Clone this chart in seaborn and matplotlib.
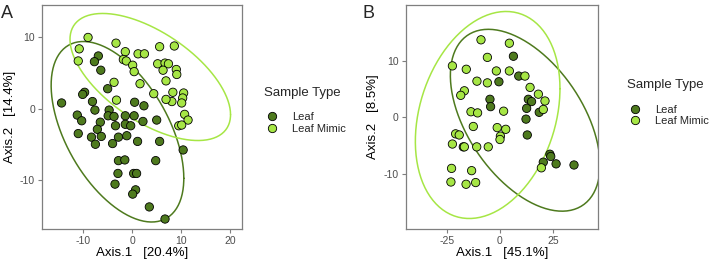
import numpy as np
import pandas as pd
import matplotlib
matplotlib.use("Agg")
import matplotlib.pyplot as plt
import seaborn as sns

# panel A (Axis.1 vs Axis.2)
a_leaf_x = [-6.9, -7.7, -6.4, -5.0, -9.7, -10.1, -14.4, -8.1, -7.6, -11.2, -10.3, -6.5, -4.7, -4.9,
            -3.7, -7.1, -11.0, -8.3, -7.5, -6.3, -3.4, -1.4, -1.4, -0.3, 0.4, 0.5, 2.4, 2.2, 5.0,
            -2.8, -1.1, -4.0, 1.1, 5.6, 10.4, -2.8, -1.5, 4.8, -2.9, 0.3, 0.9, -3.5, 0.7, 0.1, 3.5, 6.7]
a_leaf_y = [7.4, 6.6, 5.4, 2.8, 2.3, 2.0, 0.8, 1.0, -0.2, -0.9, -1.7, -1.9, -0.2, -1.0,
            -1.1, -2.9, -3.5, -4.0, -5.0, -3.9, -2.4, -1.0, -2.2, -2.4, -1.0, 0.9, 0.4, -1.8, -1.6,
            -4.0, -3.8, -4.9, -4.6, -4.6, -5.8, -7.3, -7.2, -7.3, -9.1, -9.1, -9.1, -10.6, -11.4, -12.0, -13.8, -15.5]
a_mimic_x = [-9.0, -10.8, -11.0, -3.3, -1.4, -1.8, -1.2, 1.2, 2.5, 0.1, 0.4, -3.7, 1.6, 5.6, 8.6,
             5.2, 6.7, 7.4, 6.3, 9.0, 9.1, 6.9, 4.4, 8.3, 8.1, 6.9, -3.2, 10.5, 10.3, 10.1, 10.7, 11.4, 9.5, 10.1]
a_mimic_y = [10.0, 8.4, 6.7, 9.2, 8.0, 6.9, 6.7, 7.7, 7.7, 6.1, 5.2, 3.7, 3.5, 8.7, 8.8,
             6.3, 6.4, 6.3, 5.4, 5.5, 4.8, 3.9, 2.1, 2.3, 1.0, 1.3, 1.2, 2.2, 1.5, 0.8, -0.8, -1.6, -2.4, -2.3]

# panel B
b_leaf_x = [6.3, 8.8, -0.5, -4.7, -4.4, 13.3, 14.8, 12.5, 18.4, 12.2, 12.8, -17.2, 23.4, 23.8, 20.3, 26.3, 34.7]
b_leaf_y = [10.8, 7.3, 6.3, 3.2, 1.9, 3.2, 2.8, 1.6, 0.9, -0.3, -3.1, -5.2, -6.5, -6.9, -7.9, -8.2, -8.4]
b_mimic_x = [-8.9, 4.4, -5.9, -22.3, -15.8, -1.7, 4.4, 11.7, -10.8, -5.9, 14.1, -16.7, -18.4, 18.0,
             21.1, -13.6, -10.5, 1.7, 20.3, -12.5, -1.3, 2.7, 0.2, 0.0, -20.8, -19.1, -22.3, -16.7,
             -10.9, -5.5, -22.7, -13.3, -23.0, -15.9, -11.4, 19.4]
b_mimic_y = [13.7, 13.1, 10.6, 9.1, 8.5, 8.2, 8.2, 7.3, 6.4, 6.1, 5.3, 4.7, 3.9, 4.1,
             2.9, 1.0, 0.8, 1.1, 1.4, -1.6, -1.8, -2.1, -3.3, -3.9, -2.9, -3.1, -4.7, -5.2,
             -5.2, -5.2, -9.0, -9.4, -11.4, -11.8, -11.5, -8.9]

groups = ["Leaf", "Leaf Mimic"]
palette = {"Leaf": "#4E7A1E", "Leaf Mimic": "#A6E645"}


def make_df(lx, ly, mx, my):
    return pd.DataFrame({
        "x": lx + mx,
        "y": ly + my,
        "type": ["Leaf"] * len(lx) + ["Leaf Mimic"] * len(mx),
    })


def ellipse(ax, d, color, level=0.95):
    # normal-theory confidence ellipse (stat_ellipse type="norm")
    pts = d[["x", "y"]].to_numpy()
    n = len(pts)
    center = pts.mean(axis=0)
    shape = np.cov(pts.T)
    dfd = n - 1
    fq = (dfd / 2) * ((1 - level) ** (-2 / dfd) - 1)   # F(level; 2, dfd)
    r = np.sqrt(2 * fq)
    t = np.linspace(0, 2 * np.pi, 200)
    circ = np.column_stack([np.cos(t), np.sin(t)])
    e = center + r * circ @ np.linalg.cholesky(shape).T
    ax.plot(e[:, 0], e[:, 1], color=color, lw=1.1, zorder=1)


sns.set_theme(style="white")
plt.rcParams["font.family"] = ["Liberation Sans", "DejaVu Sans"]
plt.rcParams["axes.unicode_minus"] = False

fig = plt.figure(figsize=(7.09, 2.64), dpi=100)
axA = fig.add_axes([0.0592, 0.1326, 0.2821, 0.8496])
axB = fig.add_axes([0.5722, 0.1326, 0.2708, 0.8496])

panels = [
    (axA, make_df(a_leaf_x, a_leaf_y, a_mimic_x, a_mimic_y), (-18.4, 22.4), (-16.9, 14.6),
     [-10, 0, 10, 20], [-10, 0, 10], "Axis.1   [20.4%]", "Axis.2   [14.4%]", "A", -0.205,
     (1.111, 0.472), 0.606),
    (axB, make_df(b_leaf_x, b_leaf_y, b_mimic_x, b_mimic_y), (-44.2, 45.8), (-19.7, 19.9),
     [-25, 0, 25], [-10, 0, 10], "Axis.1   [45.1%]", "Axis.2   [8.5%]", "B", -0.224,
     (1.1536, 0.5065), 0.642),
]

for ax, df, xl, yl, xt, yt, xlab, ylab, letter, lx, anchor, ty in panels:
    for g in groups:
        ellipse(ax, df[df["type"] == g], palette[g])
    sns.scatterplot(data=df, x="x", y="y", hue="type", hue_order=groups, palette=palette,
                    s=36, edgecolor="black", linewidth=0.6, ax=ax, zorder=3)
    ax.set_xlim(*xl)
    ax.set_ylim(*yl)
    ax.set_xticks(xt)
    ax.set_yticks(yt)
    ax.set_xlabel(xlab, fontsize=9.5, color="black", labelpad=1)
    ax.set_ylabel(ylab, fontsize=9.5, color="black", labelpad=3)
    ax.tick_params(axis="both", colors="#7F7F7F", labelcolor="#4D4D4D", labelsize=7.5,
                   length=3, width=0.8, direction="out", bottom=True, left=True, pad=2)
    for sp in ax.spines.values():
        sp.set_color("#7F7F7F")
        sp.set_linewidth(0.9)
    sns.move_legend(ax, "center left", bbox_to_anchor=anchor, frameon=False, title=None,
                    fontsize=8, handlelength=1.4, handletextpad=1.1, labelspacing=0.15,
                    borderpad=0, borderaxespad=0)
    ax.text(anchor[0], ty, "Sample Type", transform=ax.transAxes, fontsize=9.5,
            va="center", ha="left")
    ax.text(lx, 1.0, letter, transform=ax.transAxes, fontsize=13, va="top", ha="left")

fig.savefig("out.png", dpi=100)
